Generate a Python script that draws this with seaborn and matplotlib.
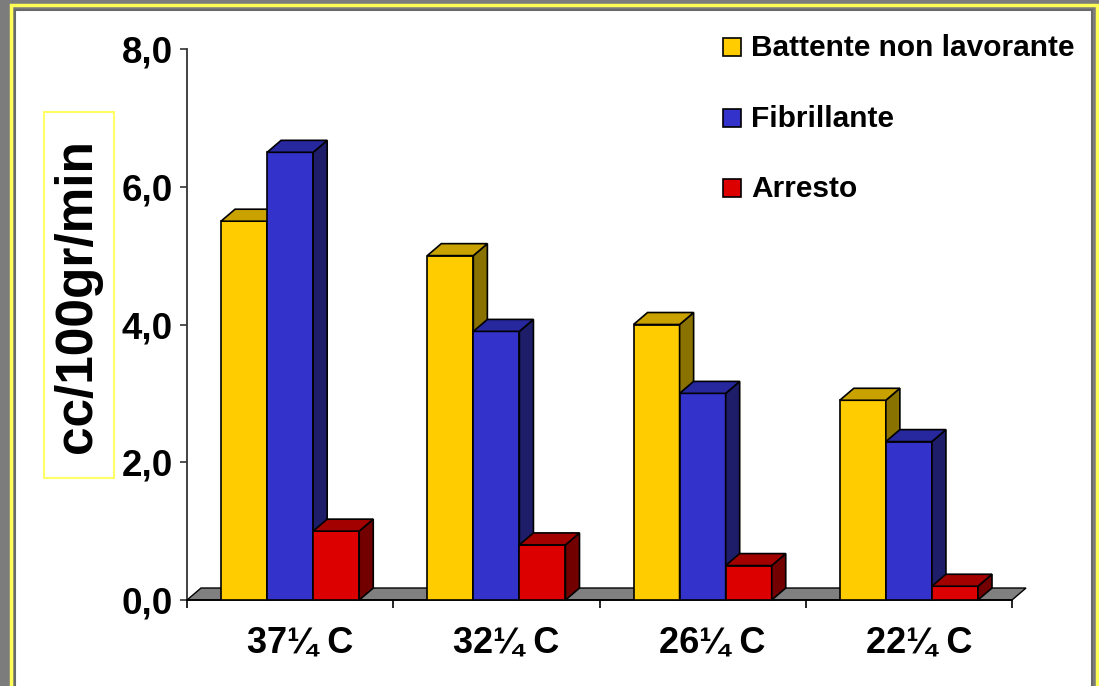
import numpy as np
import pandas as pd
import seaborn as sns
import matplotlib
matplotlib.use("Agg")
import matplotlib.pyplot as plt
import matplotlib.transforms as mtransforms
from matplotlib.patches import Rectangle, Polygon

# ---- data ----
categories = ["37\u00bc C", "32\u00bc C", "26\u00bc C", "22\u00bc C"]
series_names = ["Battente non lavorante", "Fibrillante", "Arresto"]
battente = [5.5, 5.0, 4.0, 2.9]
fibrillante = [6.5, 3.9, 3.0, 2.3]
arresto = [1.0, 0.8, 0.5, 0.2]
y_ticks = [0, 2, 4, 6, 8]
y_tick_labels = ["0,0", "2,0", "4,0", "6,0", "8,0"]
y_label = "cc/100gr/min"

# face colours for each series: front, top, side
front_colors = ["#ffcc00", "#3333cc", "#dd0000"]
top_colors = ["#c9a200", "#27279e", "#a30000"]
side_colors = ["#8a7200", "#1d1d6a", "#720000"]

df = pd.DataFrame({
    "temp": np.repeat(categories, 3),
    "serie": series_names * len(categories),
    "value": np.ravel(np.column_stack([battente, fibrillante, arresto])),
})

sns.set_theme(style="white")
plt.rcParams["font.family"] = ["Liberation Sans", "DejaVu Sans"]
plt.rcParams["font.weight"] = "bold"
plt.rcParams["text.color"] = "black"
plt.rcParams["xtick.color"] = "black"
plt.rcParams["ytick.color"] = "black"

W, H = 1099, 686
fig = plt.figure(figsize=(W / 100, H / 100), dpi=100)
fig.patch.set_facecolor("#7c7c7c")


def fx(px):
    return px / W


def fy(py):
    return 1 - py / H


# slide panel: yellow frame and white area
fig.patches.append(Rectangle((fx(10.5), fy(686 + 5)), fx(1086), (686) / H,
                             transform=fig.transFigure, facecolor="none",
                             edgecolor="#ffff55", linewidth=2.5, zorder=-3))
fig.patches.append(Rectangle((fx(15), fy(686 + 5)), fx(1077), (686 - 5) / H,
                             transform=fig.transFigure, facecolor="white",
                             edgecolor="#6a6a6a", linewidth=1.5, zorder=-2))

ax = fig.add_axes([fx(187), fy(600), fx(1012 - 187), (600 - 49) / H])
ax.set_facecolor("none")
ax.set_zorder(2)

sns.barplot(data=df, x="temp", y="value", hue="serie", hue_order=series_names,
            order=categories, palette=front_colors, width=0.67, saturation=1,
            edgecolor="black", linewidth=1.2, legend=False, ax=ax, zorder=3)

ax.set_xlim(-0.5, 3.5)
ax.set_ylim(0, 8)

# 3-D depth offsets in data units
dx, dy = 0.068, 0.174

# floor
floor = Polygon([(-0.5, 0), (3.5, 0), (3.5 + dx, dy), (-0.5 + dx, dy)],
                closed=True, facecolor="#808080", edgecolor="black",
                linewidth=1.0, zorder=2, clip_on=False)
ax.add_patch(floor)

for j, cont in enumerate(ax.containers):
    for bar in cont.patches:
        x0 = bar.get_x()
        x1 = x0 + bar.get_width()
        h = bar.get_height()
        bar.set_zorder(3 + j)
        side = Polygon([(x1, 0), (x1 + dx, dy), (x1 + dx, h + dy), (x1, h)],
                       closed=True, facecolor=side_colors[j], edgecolor="black",
                       linewidth=1.2, zorder=3 + j, clip_on=False)
        top = Polygon([(x0, h), (x0 + dx, h + dy), (x1 + dx, h + dy), (x1, h)],
                      closed=True, facecolor=top_colors[j], edgecolor="black",
                      linewidth=1.2, zorder=3 + j, clip_on=False)
        ax.add_patch(side)
        ax.add_patch(top)

# axes styling
for s in ["top", "right"]:
    ax.spines[s].set_visible(False)
ax.spines["left"].set_color("#333333")
ax.spines["left"].set_linewidth(1.3)
ax.spines["bottom"].set_color("black")
ax.spines["bottom"].set_linewidth(1.3)
ax.spines["left"].set_zorder(1)

ax.set_yticks(y_ticks)
ax.set_yticklabels(y_tick_labels, fontsize=26.5, fontweight="bold", color="black")
ax.tick_params(axis="y", direction="out", length=5, width=1.2,
               color="#333333", pad=5, left=True, labelcolor="black")
ax.set_xticks(range(len(categories)))
ax.set_xticklabels(categories, fontsize=26, fontweight="bold", color="black")
ax.set_xticks(np.arange(-0.5, len(categories), 1.0), minor=True)
ax.tick_params(axis="x", which="major", length=0, pad=18, labelcolor="black")
ax.tick_params(axis="x", which="minor", direction="out", length=6,
               width=1.2, color="black", bottom=True)
shift = mtransforms.ScaledTranslation(10 / 100, 0, fig.dpi_scale_trans)
for lbl in ax.get_xticklabels():
    lbl.set_transform(lbl.get_transform() + shift)
ax.set_xlabel("")
ax.set_ylabel("")

# y axis title in its framed box
fig.patches.append(Rectangle((fx(44), fy(478)), fx(70), (478 - 112) / H,
                             transform=fig.transFigure, facecolor="white",
                             edgecolor="#ffff66", linewidth=1.5, zorder=1))
fig.text(fx(78), fy(296), y_label, rotation=90, ha="center", va="center",
         fontsize=37, fontweight="bold", color="black", zorder=3)

# legend
legend_rows = [47, 118, 188]
for name, col, yc in zip(series_names, front_colors, legend_rows):
    fig.patches.append(Rectangle((fx(723), fy(yc + 9)), fx(18), 18 / H,
                                 transform=fig.transFigure, facecolor=col,
                                 edgecolor="black", linewidth=1.2, zorder=3))
    fig.text(fx(751), fy(yc + 9), name, ha="left", va="baseline",
             fontsize=21.5, fontweight="bold", color="black", zorder=3)

fig.savefig("out.png", dpi=100, facecolor=fig.get_facecolor())
